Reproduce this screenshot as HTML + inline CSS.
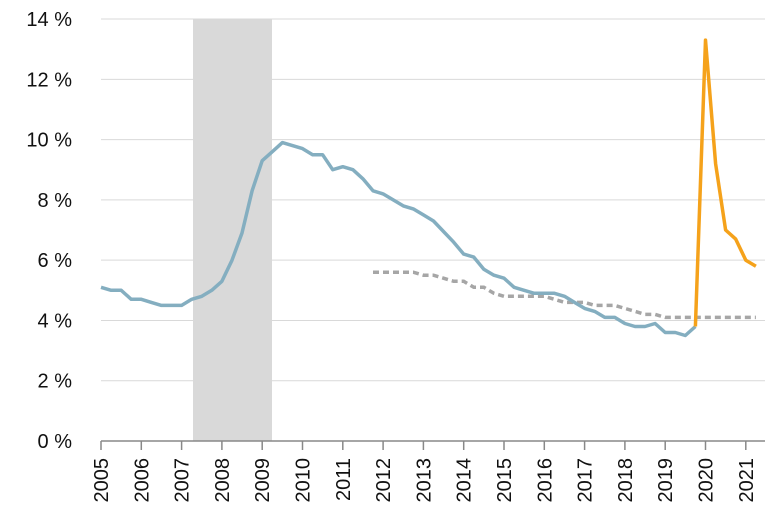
<!DOCTYPE html>
<html><head><meta charset="utf-8"><style>
html,body{margin:0;padding:0;background:#fff;}
svg text{font-family:"Liberation Sans","DejaVu Sans",sans-serif;fill:#111;}
</style></head><body>
<svg id="s" width="778" height="518" xmlns="http://www.w3.org/2000/svg"></svg>
<script>
const s=document.getElementById('s');
const X=t=>101+(t-2005)*40.3, Y=v=>441-v*30.14;
let h='';
h+=`<rect x="193" y="19" width="79" height="422" fill="#d9d9d9"/>`;
for(let i=1;i<=7;i++){const y=Y(i*2);h+=`<line x1="101" x2="765" y1="${y}" y2="${y}" stroke="#d9d9d9" stroke-width="1"/>`;}
for(let i=0;i<=7;i++){h+=`<text x="72" y="${Y(i*2)+7}" font-size="20" text-anchor="end">${i*2} %</text>`;}
h+=`<line x1="101" x2="765" y1="441" y2="441" stroke="#888" stroke-width="1.5"/>`;
for(let yr=2005;yr<=2021;yr++){const x=X(yr);h+=`<line x1="${x}" x2="${x}" y1="441" y2="450" stroke="#888" stroke-width="1.5"/>`;
h+=`<text transform="translate(${x+7},458) rotate(-90)" font-size="20" text-anchor="end">${yr}</text>`;}
const blue=[5.1,5.0,5.0,4.7,4.7,4.6,4.5,4.5,4.5,4.7,4.8,5.0,5.3,6.0,6.9,8.3,9.3,9.6,9.9,9.8,9.7,9.5,9.5,9.0,9.1,9.0,8.7,8.3,8.2,8.0,7.8,7.7,7.5,7.3,6.95,6.6,6.2,6.1,5.7,5.5,5.4,5.1,5.0,4.9,4.9,4.9,4.8,4.6,4.4,4.3,4.1,4.1,3.9,3.8,3.8,3.9,3.6,3.6,3.5,3.8];
const pts=(arr,start)=>arr.map((v,i)=>X(start+i*0.25).toFixed(1)+','+Y(v).toFixed(1)).join(' ');
const gray=[5.6,5.6,5.6,5.6,5.6,5.5,5.5,5.4,5.3,5.3,5.1,5.1,4.9,4.8,4.8,4.8,4.8,4.8,4.7,4.6,4.6,4.6,4.5,4.5,4.5,4.4,4.3,4.2,4.2,4.1,4.1,4.1,4.1,4.1,4.1,4.1,4.1,4.1,4.1];
h+=`<polyline points="${pts(gray,2011.75)}" fill="none" stroke="#a6a6a6" stroke-width="3.5" stroke-dasharray="6,4"/>`;
h+=`<polyline points="${pts(blue,2005)}" fill="none" stroke="#84aec0" stroke-width="3.5" stroke-linejoin="round"/>`;
h+=`<polyline points="${pts([3.8,13.3,9.2,7.0,6.7,6.0,5.8],2019.75)}" fill="none" stroke="#f5a21b" stroke-width="3.5" stroke-linejoin="round"/>`;
s.innerHTML=h;
</script>
</body></html>
